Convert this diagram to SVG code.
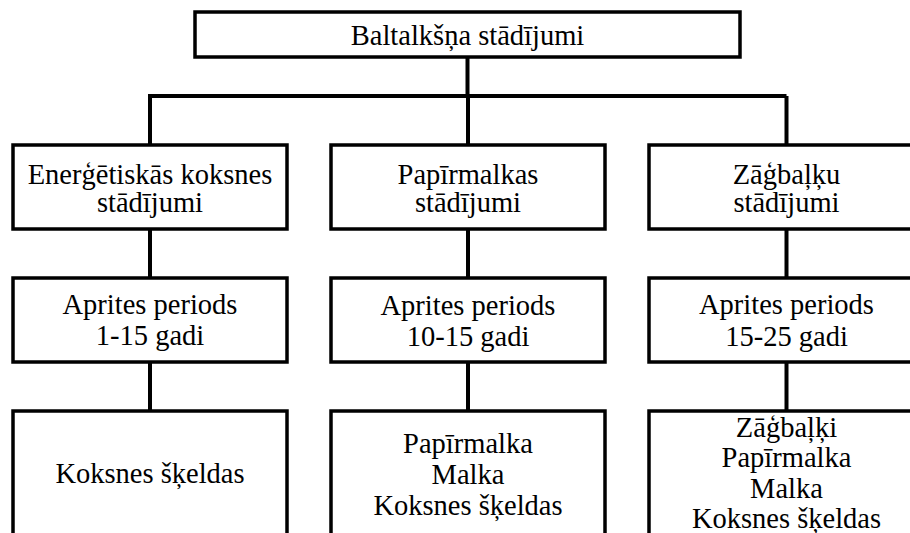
<svg xmlns="http://www.w3.org/2000/svg" width="910" height="533" viewBox="0 0 910 533">
<style>
.box{fill:#fff;stroke:#000;stroke-width:3.5}
.ln{stroke:#000;stroke-width:4;fill:none}
text{font-family:"Liberation Serif","Times New Roman",serif;font-size:28.5px;fill:#000;text-anchor:middle}
</style>
<rect width="910" height="533" fill="#fff"/>
<g id="connectors">
<path class="ln" d="M467.5 57V96M150 96H786.5M150 94V145M468 96V145M786.5 96V145"/>
<path class="ln" d="M150 229V278M468 229V278M786.5 229V278"/>
<path class="ln" d="M150 362V411M468 362V411M786.5 362V411"/>
</g>
<g id="root"><rect class="box" x="195" y="12" width="545" height="45"/><text x="467.5" y="45">Baltalkšņa stādījumi</text></g>
<g id="n-energ"><rect class="box" x="13" y="145" width="274" height="84"/><text x="150" y="184">Enerģētiskās koksnes</text><text x="150" y="212">stādījumi</text></g>
<g id="n-papir"><rect class="box" x="331" y="145" width="274" height="84"/><text x="468" y="184">Papīrmalkas</text><text x="468" y="212">stādījumi</text></g>
<g id="n-zagb"><rect class="box" x="649" y="145" width="274" height="84"/><text x="786.5" y="184">Zāģbaļķu</text><text x="786.5" y="212">stādījumi</text></g>
<g id="p1"><rect class="box" x="13" y="278" width="274" height="84"/><text x="150" y="314">Aprites periods</text><text x="150" y="345">1-15 gadi</text></g>
<g id="p2"><rect class="box" x="331" y="278" width="274" height="84"/><text x="468" y="315">Aprites periods</text><text x="468" y="346">10-15 gadi</text></g>
<g id="p3"><rect class="box" x="649" y="278" width="274" height="84"/><text x="786.5" y="314">Aprites periods</text><text x="786.5" y="346">15-25 gadi</text></g>
<g id="o1"><rect class="box" x="13" y="411" width="274" height="140"/><text x="150" y="483">Koksnes šķeldas</text></g>
<g id="o2"><rect class="box" x="331" y="411" width="274" height="140"/><text x="468" y="453">Papīrmalka</text><text x="468" y="484">Malka</text><text x="468" y="515">Koksnes šķeldas</text></g>
<g id="o3"><rect class="box" x="649" y="411" width="274" height="140"/><text x="786.5" y="437">Zāģbaļķi</text><text x="786.5" y="467">Papīrmalka</text><text x="786.5" y="498">Malka</text><text x="786.5" y="528">Koksnes šķeldas</text></g>
</svg>
